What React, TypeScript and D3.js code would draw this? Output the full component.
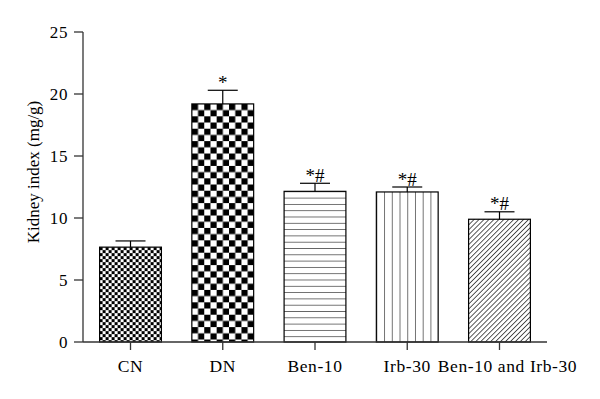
import React from 'react';
import * as d3 from 'd3';

const categories = ['CN', 'DN', 'Ben-10', 'Irb-30', 'Ben-10 and Irb-30'];
const means = [7.65, 19.2, 12.15, 12.1, 9.9];
const errors = [0.5, 1.1, 0.65, 0.4, 0.6];
const marks = ['', '*', '*#', '*#', '*#'];
const yTicks = [0, 5, 10, 15, 20, 25];

const width = 600;
const height = 399;
const margin = { left: 83, right: 53, top: 32, bottom: 57 };
const font = '"Liberation Serif", "DejaVu Serif", serif';

const patternIds = ['pCN', 'pDN', 'pBen', 'pIrb', 'pBoth'];

const App: React.FC = () => {
  const x = d3.scaleBand<string>()
    .domain(categories)
    .range([margin.left, width - margin.right])
    .paddingInner(0.33)
    .paddingOuter(0.18);

  const y = d3.scaleLinear()
    .domain([0, 25])
    .range([height - margin.bottom, margin.top]);

  const bw = x.bandwidth();
  const y0 = y(0);

  return (
    <svg width={width} height={height} style={{ position: 'absolute', left: 0, top: 0, background: '#fff' }}>
      <defs>
        {/* fine checkerboard */}
        <pattern id="pCN" width={6} height={6} patternUnits="userSpaceOnUse" x={x('CN')} y={y(means[0])}>
          <rect width={6} height={6} fill="#fff" />
          <rect width={3} height={3} fill="#000" />
          <rect x={3} y={3} width={3} height={3} fill="#000" />
        </pattern>
        {/* coarse checkerboard */}
        <pattern id="pDN" width={12.4} height={12.4} patternUnits="userSpaceOnUse" x={x('DN')} y={y(means[1])}>
          <rect width={12.4} height={12.4} fill="#fff" />
          <rect width={6.2} height={6.2} fill="#000" />
          <rect x={6.2} y={6.2} width={6.2} height={6.2} fill="#000" />
        </pattern>
        {/* horizontal lines */}
        <pattern id="pBen" width={10} height={6.3} patternUnits="userSpaceOnUse" y={y(means[2])}>
          <rect width={10} height={6.3} fill="#fff" />
          <line x1={0} x2={10} y1={0} y2={0} stroke="#000" strokeWidth={1.1} />
        </pattern>
        {/* vertical lines */}
        <pattern id="pIrb" width={bw / 8} height={10} patternUnits="userSpaceOnUse" x={x('Irb-30')}>
          <rect width={bw / 8} height={10} fill="#fff" />
          <line x1={0} x2={0} y1={0} y2={10} stroke="#000" strokeWidth={1.1} />
        </pattern>
        {/* diagonal lines */}
        <pattern id="pBoth" width={3.5} height={10} patternUnits="userSpaceOnUse" patternTransform="rotate(45)">
          <rect width={3.5} height={10} fill="#fff" />
          <line x1={0} x2={0} y1={0} y2={10} stroke="#000" strokeWidth={1.3} />
        </pattern>
      </defs>

      {categories.map((c, i) => {
        const bx = x(c)!;
        const cx = bx + bw / 2;
        const top = y(means[i]);
        const capY = y(means[i] + errors[i]);
        return (
          <g key={c}>
            <rect x={bx} y={top} width={bw} height={y0 - top}
              fill={`url(#${patternIds[i]})`} stroke="#000" strokeWidth={1.2} />
            <line x1={cx} x2={cx} y1={top} y2={capY} stroke="#000" strokeWidth={1.2} />
            <line x1={cx - 15} x2={cx + 15} y1={capY} y2={capY} stroke="#000" strokeWidth={1.2} />
            {marks[i] && (
              <text x={cx} y={capY - 1.5} textAnchor="middle" fontFamily={font} fontSize={19}>
                {marks[i]}
              </text>
            )}
          </g>
        );
      })}

      {/* y axis */}
      <line x1={margin.left} x2={margin.left} y1={y(25)} y2={y0} stroke="#333" strokeWidth={1.3} />
      {yTicks.map(t => (
        <g key={t}>
          <line x1={margin.left - 9} x2={margin.left} y1={y(t)} y2={y(t)} stroke="#333" strokeWidth={1.3} />
          <text x={margin.left - 15} y={y(t)} dy="0.35em" textAnchor="end" fontFamily={font}
            fontSize={17} letterSpacing={0.6}>
            {t}
          </text>
        </g>
      ))}
      <text transform="translate(39,172) rotate(-90)" textAnchor="middle"
        fontFamily={font} fontSize={17}>
        Kidney index (mg/g)
      </text>

      {/* x axis */}
      <line x1={margin.left} x2={width - margin.right} y1={y0} y2={y0} stroke="#333" strokeWidth={1.3} />
      {categories.map((c, i) => {
        const cx = x(c)! + bw / 2;
        return (
          <g key={c}>
            <line x1={cx} x2={cx} y1={y0} y2={y0 + 8} stroke="#333" strokeWidth={1.3} />
            <text x={cx + (i === 4 ? 8 : 0)} y={y0 + 30} textAnchor="middle" fontFamily={font}
              fontSize={17.5} letterSpacing={0.6}>
              {c}
            </text>
          </g>
        );
      })}
    </svg>
  );
};

export default App;
